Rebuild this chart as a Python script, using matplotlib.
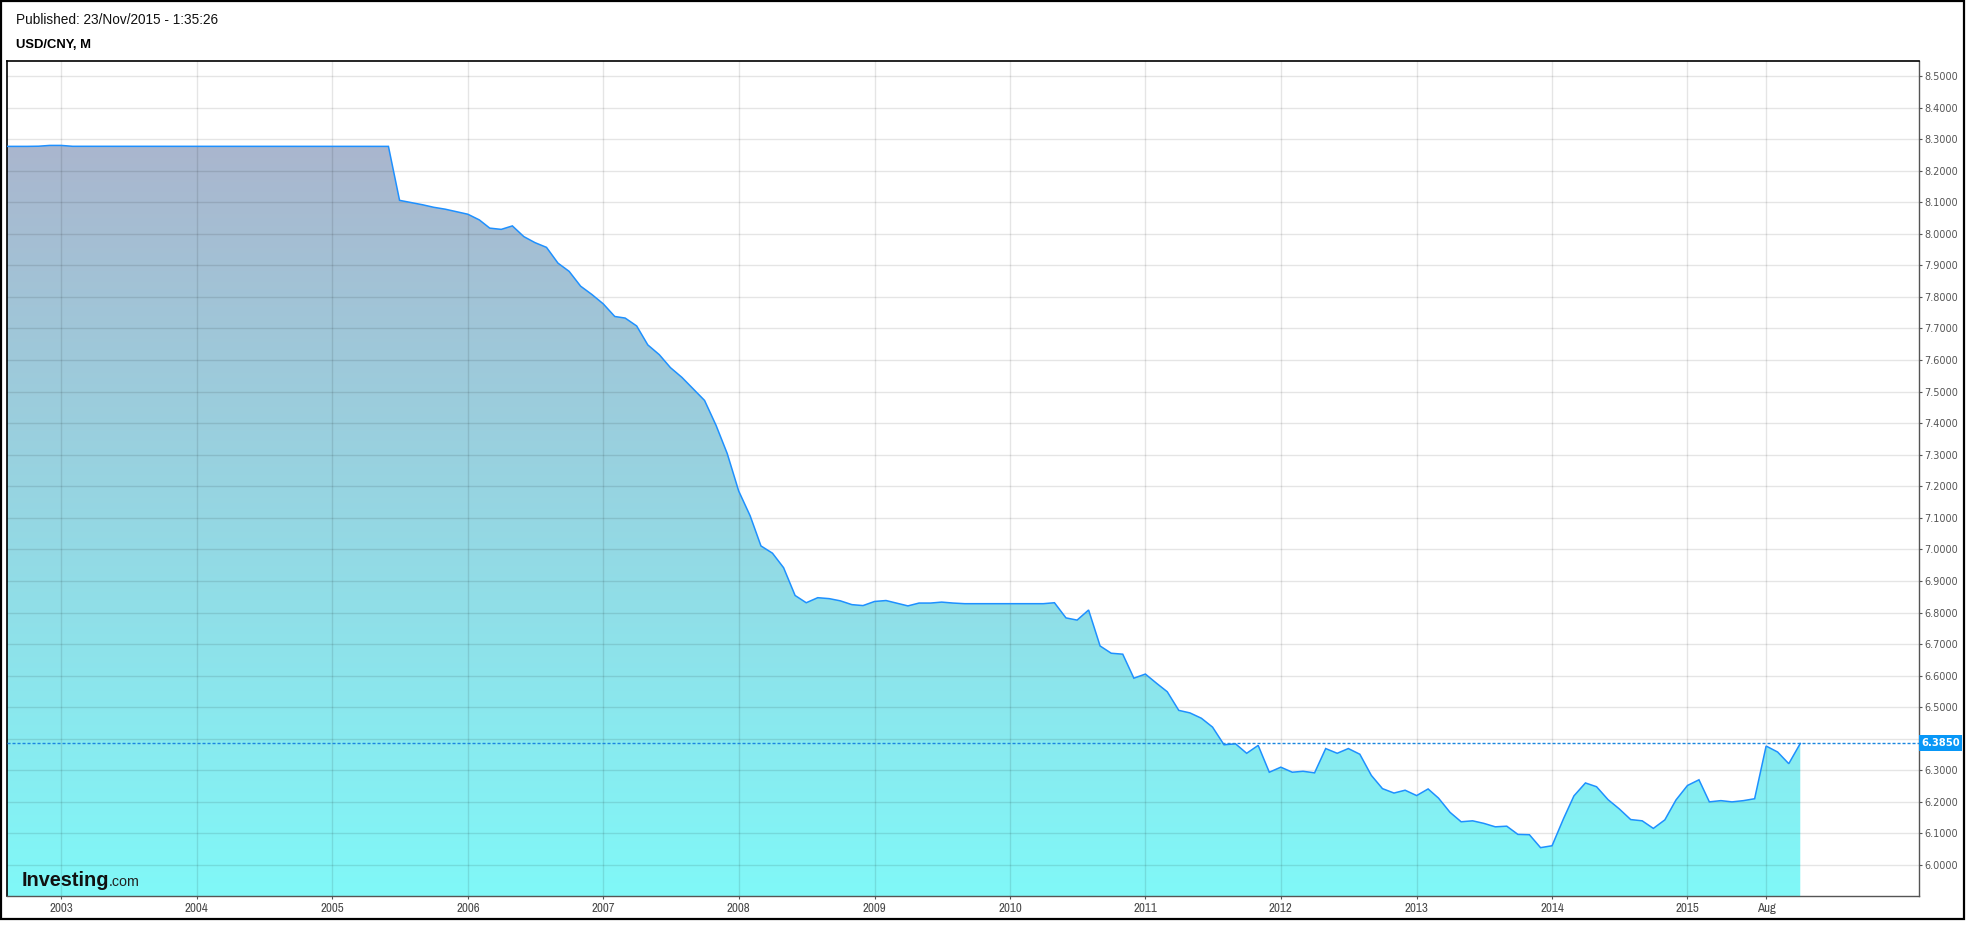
import numpy as np
import pandas as pd
import matplotlib
matplotlib.use("Agg")
import matplotlib.pyplot as plt
import matplotlib.dates as mdates
from matplotlib.patches import Rectangle
from matplotlib import font_manager

# ---------------- data (monthly USD/CNY, point at month start) ----------------
first_month = "2002-07-01"
last_month = "2015-11-01"
v2002 = [8.2770, 8.2770, 8.2770, 8.2770, 8.2775, 8.2800]            # Jul-Dec
v2003 = [8.2800, 8.2772, 8.2772, 8.2772, 8.2772, 8.2772, 8.2772, 8.2772, 8.2772, 8.2772, 8.2772, 8.2772]
v2004 = [8.2770] * 12
v2005 = [8.2770, 8.2770, 8.2770, 8.2770, 8.2770, 8.2770, 8.106, 8.099, 8.092, 8.084, 8.078, 8.070]
v2006 = [8.062, 8.044, 8.018, 8.014, 8.025, 7.991, 7.972, 7.957, 7.907, 7.881, 7.834, 7.808]
v2007 = [7.778, 7.738, 7.733, 7.708, 7.648, 7.617, 7.576, 7.545, 7.508, 7.472, 7.393, 7.304]
v2008 = [7.185, 7.106, 7.011, 6.988, 6.942, 6.854, 6.831, 6.847, 6.844, 6.837, 6.825, 6.822]
v2009 = [6.835, 6.838, 6.830, 6.821, 6.830, 6.830, 6.833, 6.830, 6.828, 6.828, 6.828, 6.828]
v2010 = [6.828, 6.828, 6.828, 6.828, 6.831, 6.783, 6.776, 6.808, 6.694, 6.671, 6.668, 6.592]
v2011 = [6.605, 6.575, 6.549, 6.490, 6.482, 6.465, 6.437, 6.381, 6.384, 6.354, 6.379, 6.294]
v2012 = [6.310, 6.294, 6.297, 6.292, 6.369, 6.354, 6.369, 6.351, 6.284, 6.242, 6.228, 6.237]
v2013 = [6.220, 6.241, 6.212, 6.167, 6.137, 6.140, 6.132, 6.121, 6.123, 6.097, 6.096, 6.055]
v2014 = [6.061, 6.147, 6.219, 6.260, 6.248, 6.207, 6.178, 6.144, 6.140, 6.116, 6.143, 6.206]
v2015 = [6.252, 6.270, 6.200, 6.204, 6.200, 6.204, 6.210, 6.377, 6.358, 6.321, 6.385]  # Jan-Nov

last_price = 6.3850
y_ticks = [round(6.0 + 0.1 * i, 1) for i in range(26)]
x_tick_dates = [f"{y}-01-01" for y in range(2003, 2016)] + ["2015-08-01"]
x_tick_labels = [str(y) for y in range(2003, 2016)] + ["Aug"]
published_text = "Published: 23/Nov/2015 - 1:35:26"
title_text = "USD/CNY, M"

values = np.array(v2002 + v2003 + v2004 + v2005 + v2006 + v2007 + v2008 +
                  v2009 + v2010 + v2011 + v2012 + v2013 + v2014 + v2015)
dates = pd.date_range(first_month, last_month, freq="MS")

# ---------------- fonts: look for a narrow / condensed face for x labels ----------------
narrow_prop = None
cands = []
for f in font_manager.fontManager.ttflist:
    key = (f.name + " " + f.fname).lower()
    if ("narrow" in key or "condensed" in key or str(f.stretch) in ("condensed", "semi-condensed")) \
            and "bold" not in key and "italic" not in key and "oblique" not in key:
        rank = 0 if "narrow" in key else (1 if "roboto" in key else 2)
        cands.append((rank, f.fname))
if cands:
    cands.sort()
    narrow_prop = font_manager.FontProperties(fname=cands[0][1])
    xlab_size = 9.3 if cands[0][0] == 0 else 8.6
else:
    narrow_prop = font_manager.FontProperties(family="Liberation Sans")
    xlab_size = 8.2
narrow_prop.set_size(xlab_size)

W, H = 1972, 926
fig = plt.figure(figsize=(W / 100, H / 100), dpi=100)
fig.patch.set_facecolor("white")
ax = fig.add_axes([7 / W, 30 / H, (1919 - 7) / W, (896 - 61) / H])

xmin = mdates.date2num(pd.Timestamp("2002-08-08"))
xmax = mdates.date2num(pd.Timestamp("2016-09-16"))
ymin, ymax = 5.9018, 8.5475

dn = mdates.date2num(dates)

# gradient fill clipped to the area under the line
top_c = np.array([170, 182, 206]) / 255.0
bot_c = np.array([128, 248, 248]) / 255.0
t = np.linspace(0, 1, 256)[:, None]
grad = (bot_c[None, :] * (1 - t) + top_c[None, :] * t)[:, None, :]
im = ax.imshow(grad, extent=[xmin - 400, xmax, ymin, 8.28], origin="lower",
               aspect="auto", interpolation="bilinear", zorder=0.5)
poly = ax.fill_between(dn, values, ymin - 1, facecolor="none", edgecolor="none")
im.set_clip_path(poly.get_paths()[0], ax.transData)

ax.plot(dn, values, color="#1e90ff", lw=1.1, zorder=3, solid_joinstyle="miter")

# current price line and tag
ax.axhline(last_price, color="#1a86e0", lw=1.0, linestyle=(0, (2.2, 1.4)), zorder=3)
btrans = matplotlib.transforms.blended_transform_factory(ax.transAxes, ax.transData)
box_w = 43 / 1912
box_h = 16 / 315.6
ax.add_patch(Rectangle((1.0, last_price - box_h / 2), box_w, box_h, transform=btrans,
                       facecolor="#0897f7", edgecolor="none", clip_on=False, zorder=10))
ax.text(1.0 + box_w / 2, last_price, f"{last_price:.4f}", transform=btrans, ha="center",
        va="center", color="white", fontsize=7.2, fontweight="bold",
        family="DejaVu Sans", zorder=11, clip_on=False)

ax.set_xlim(xmin, xmax)
ax.set_ylim(ymin, ymax)

# axes decoration
ax.yaxis.tick_right()
ax.set_yticks(y_ticks)
ax.set_yticklabels([f"{v:.4f}" for v in y_ticks])
ax.set_xticks(mdates.date2num(pd.to_datetime(x_tick_dates)))
ax.set_xticklabels(x_tick_labels)
ax.tick_params(axis="y", which="both", direction="out", length=2.5, width=0.8,
               color="#555555", pad=1.2, labelsize=7, labelcolor="#555555")
ax.tick_params(axis="x", which="both", direction="out", length=2.5, width=0.8,
               color="#555555", pad=2.5, labelcolor="#4a4a4a")
for lab in ax.get_yticklabels():
    lab.set_family("DejaVu Sans")
for lab in ax.get_xticklabels():
    lab.set_fontproperties(narrow_prop)
ax.set_axisbelow(False)
ax.grid(True, color="black", alpha=0.1, lw=1.0)

for side in ["left", "top"]:
    ax.spines[side].set_color("#000000")
    ax.spines[side].set_linewidth(1.2)
for side in ["right", "bottom"]:
    ax.spines[side].set_color("#555555")
    ax.spines[side].set_linewidth(1.0)
ax.set_facecolor("white")

# header texts
fig.text(16 / W, 1 - 20.5 / H, published_text, ha="left", va="center", fontsize=9.8,
         family="Liberation Sans", color="#111111")
fig.text(16 / W, 1 - 45.5 / H, title_text, ha="left", va="center", fontsize=9.4,
         fontweight="bold", family="Liberation Sans", color="#000000")

# watermark logo
fig.text(22 / W, 1 - 885.5 / H, "Investing", ha="left", va="baseline", fontsize=14.3,
         fontweight="bold", family="Liberation Sans", color="#111111", zorder=5)
fig.text(108.5 / W, 1 - 885.5 / H, ".com", ha="left", va="baseline", fontsize=10.3,
         family="Liberation Sans", color="#222222", zorder=5)

# outer frame
fig.patches.append(Rectangle((1 / W, 7 / H), 1963 / W, 918 / H, transform=fig.transFigure,
                             facecolor="none", edgecolor="black", lw=1.6))

fig.savefig("out.png", dpi=100)
